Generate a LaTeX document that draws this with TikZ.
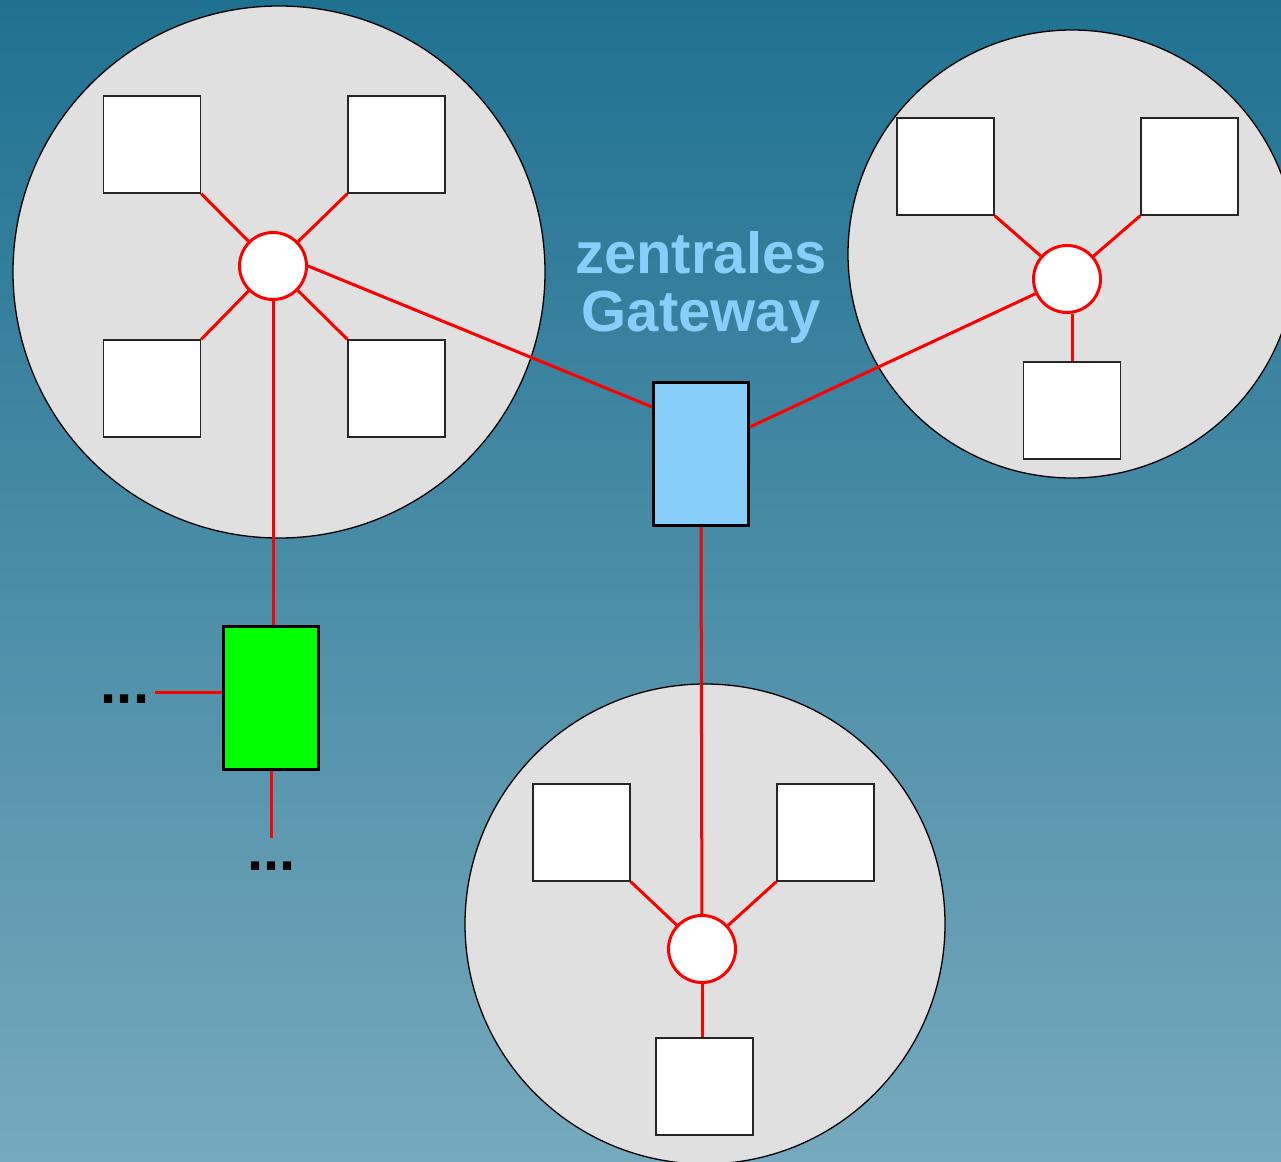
\documentclass[tikz,border=0pt]{standalone}
\usepackage{fontspec}
\setmainfont{Liberation Sans}
\definecolor{bgtop}{HTML}{207191}
\definecolor{bgbottom}{HTML}{76A9BD}
\definecolor{zonegray}{HTML}{E0E0E0}
\definecolor{gwblue}{HTML}{87CEFA}
\begin{document}
\begin{tikzpicture}[x=1pt,y=-1pt,
  zone/.style={circle, draw=black, line width=1.3pt, fill=zonegray, inner sep=0pt, minimum size=#1},
  hub/.style={circle, draw=red, line width=3pt, fill=white, inner sep=0pt, minimum size=67pt},
  host/.style={rectangle, draw=black!85, line width=1.4pt, fill=white, inner sep=0pt, minimum width=97pt, minimum height=97pt},
  gate/.style={rectangle, draw=black, line width=3.2pt, inner sep=0pt, minimum width=95pt, minimum height=143pt},
  link/.style={draw=red, line width=3pt},
  bigtext/.style={font=\bfseries\fontsize{58}{58}\selectfont, inner sep=0pt}]

% background
\useasboundingbox (0,0) rectangle (1281,1161);
\clip (0,0) rectangle (1281,1161);
\shade[top color=bgtop, bottom color=bgbottom] (0,0) rectangle (1281,1161);

% network zones
\node[zone=532pt] (c1) at (279,272) {};
\node[zone=448pt] (c2) at (1072,254) {};
\node[zone=480pt] (c3) at (705,924) {};

% hubs
\node[hub] (h1) at (273,266) {};
\node[hub] (h2) at (1067,279) {};
\node[hub] (h3) at (702,949) {};

% hosts
\node[host] (s1a) at (152,144.5) {};
\node[host] (s1b) at (396.5,144.5) {};
\node[host] (s1c) at (152,388.5) {};
\node[host] (s1d) at (396.5,388.5) {};
\node[host] (s2a) at (945.5,166.5) {};
\node[host] (s2b) at (1189.5,166.5) {};
\node[host] (s2c) at (1072,410.5) {};
\node[host] (s3a) at (581.5,832.5) {};
\node[host] (s3b) at (825.5,832.5) {};
\node[host] (s3c) at (704.5,1086.5) {};

% gateways
\node[gate, fill=gwblue] (gw) at (701,454) {};
\node[gate, fill=green] (green) at (271,698) {};

% label (base anchor sits on the last line)
\node[bigtext, text=gwblue, align=center, anchor=base] (lbl) at (701,331) {zentrales\\Gateway};

% continuation marks
\coordinate (gl) at (155,692);
\coordinate (gb) at (271,838);
\node[bigtext, text=black, anchor=base] (dl) at (125,703) {...};
\node[bigtext, text=black, anchor=base] (db) at (271.5,870) {...};

% links
\draw[link] (s1a.south east) -- (h1);
\draw[link] (s1b.south west) -- (h1);
\draw[link] (s1c.north east) -- (h1);
\draw[link] (s1d.north west) -- (h1);
\draw[link] (h1.east) -- ([yshift=-26pt]gw.north west);
\draw[link] (h1.south) -- (h1.south |- green.north);
\draw[link] (gl) -- (gl -| green.west);
\draw[link] (green.south) -- (gb);
\draw[link] ([yshift=-46pt]gw.north east) -- (h2);
\draw[link] (s2a.south east) -- (h2);
\draw[link] (s2b.south west) -- (h2);
\draw[link] (s2c.north) -- (s2c.north |- h2.south);
\draw[link] (gw.south) -- (h3);
\draw[link] (s3a.south east) -- (h3);
\draw[link] (s3b.south west) -- (h3);
\draw[link] (h3.south) -- (h3.south |- s3c.north);
\end{tikzpicture}
\end{document}
